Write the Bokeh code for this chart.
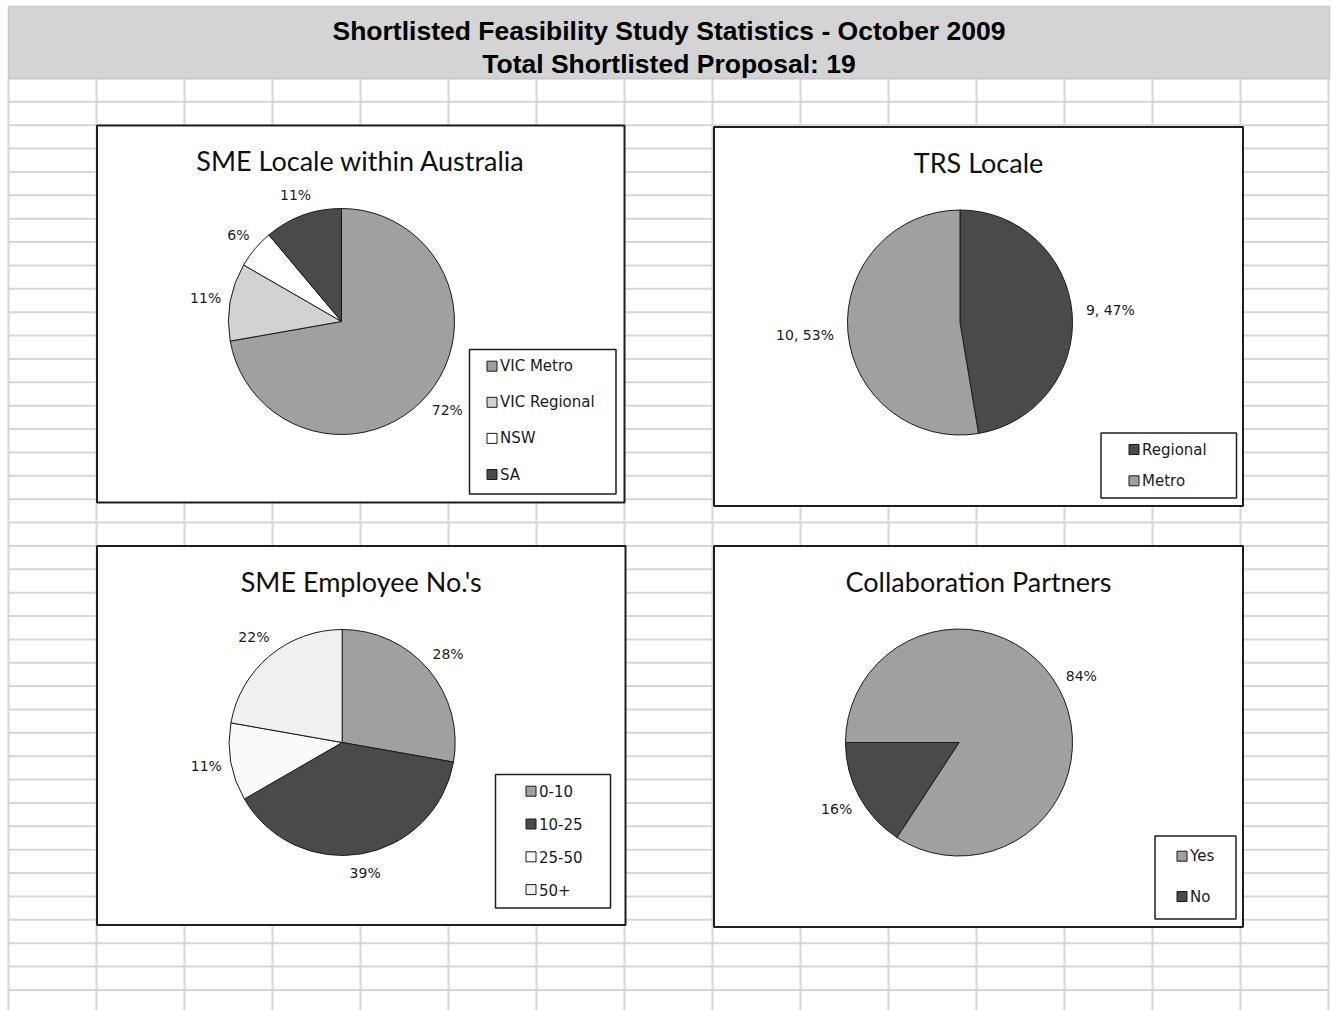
import numpy as np
from bokeh.plotting import figure
from bokeh.models import Range1d, ColumnDataSource
from bokeh.core.properties import value
from bokeh.embed import file_html
from bokeh.resources import INLINE

# ---------------- data ----------------
header_lines = ["Shortlisted Feasibility Study Statistics - October 2009",
                "Total Shortlisted Proposal: 19"]

locale_title = "SME Locale within Australia"
locale_cats = ["VIC Metro", "VIC Regional", "NSW", "SA"]
locale_counts = [13, 2, 1, 2]
locale_colors = ["#a0a0a0", "#d2d2d2", "#ffffff", "#4a4a4a"]

trs_title = "TRS Locale"
trs_cats = ["Regional", "Metro"]
trs_counts = [9, 10]
trs_colors = ["#4a4a4a", "#a0a0a0"]

emp_title = "SME Employee No.'s"
emp_cats = ["0-10", "10-25", "25-50", "50+"]
emp_counts = [5, 7, 2, 4]
emp_colors = ["#a0a0a0", "#4a4a4a", "#fafafa", "#f0f0f0"]

collab_title = "Collaboration Partners"
collab_cats = ["Yes", "No"]
collab_counts = [16, 3]
collab_colors = ["#a0a0a0", "#4a4a4a"]

# ---------------- page geometry ----------------
W, H = 1337, 1010
TITLE_FONT = "Lato"
SMALL_FONT = "DejaVu Sans"


def fy(y):
    """page y (downwards) -> plot y (upwards)"""
    return H - np.asarray(y, dtype=float)


p = figure(width=W, height=H, x_range=Range1d(0, W), y_range=Range1d(0, H),
           output_backend="svg", toolbar_location=None, min_border=0,
           x_axis_location=None, y_axis_location=None)
p.grid.visible = False
p.outline_line_color = None
p.background_fill_color = "white"
p.border_fill_color = "white"

# worksheet cell grid
col_x = 8 + 88 * np.arange(16)
row_y = 78 + 23.37 * np.arange(0, 40)
row_y = row_y[row_y <= H]
p.segment(x0=col_x, y0=fy(np.full(len(col_x), 78)), x1=col_x, y1=fy(np.full(len(col_x), H)),
          line_color="#d6d6d6", line_width=2)
p.segment(x0=np.full(len(row_y), 8), y0=fy(row_y), x1=np.full(len(row_y), 1329), y1=fy(row_y),
          line_color="#d6d6d6", line_width=2)

# merged header cells
p.quad(left=8, right=1329, top=fy(6), bottom=fy(78), fill_color="#d4d4d4",
       line_color="#c8c8c8", line_width=1.5)
p.text(x=[668.5, 668.5], y=fy([30, 63]), text=header_lines,
       text_font=value("Liberation Sans"), text_font_style="bold",
       text_font_size=value("26.5px"), text_align="center", text_baseline="middle",
       text_color="#000000")


def pie_panel(title, cats, counts, colors, box, center, r, legend_box, row0, row_step,
              sq_x, start_deg=0.0, show_count=False, title_y=None):
    bx0, by0, bx1, by1 = box
    # chart area
    p.quad(left=bx0, right=bx1, top=fy(by0), bottom=fy(by1), fill_color="white",
           line_color="#1e1e1e", line_width=2)
    p.text(x=[(bx0 + bx1) / 2], y=fy([title_y]), text=[title],
           text_font=value(TITLE_FONT), text_font_size=value("27px"),
           text_align="center", text_baseline="middle", text_color="#111111")

    counts = np.asarray(counts, dtype=float)
    frac = counts / counts.sum()
    cum = np.concatenate([[0.0], np.cumsum(frac)])
    start_cw = start_deg + cum[:-1] * 360.0   # clockwise from 12 o'clock
    end_cw = start_deg + cum[1:] * 360.0
    cx, cy = center
    src = ColumnDataSource(dict(
        start=np.radians(90.0 - start_cw), end=np.radians(90.0 - end_cw), color=colors))
    p.wedge(x=cx, y=fy(cy), radius=r, start_angle="start", end_angle="end",
            direction="clock", fill_color="color", line_color="#1a1a1a",
            line_width=1, source=src)

    # data labels just outside the rim
    pct = np.round(frac * 100).astype(int)
    if show_count:
        labels = [f"{int(c)}, {q}%" for c, q in zip(counts, pct)]
    else:
        labels = [f"{q}%" for q in pct]
    mid = np.radians((start_cw + end_cw) / 2.0)
    dx, dy = np.sin(mid), -np.cos(mid)
    widths = np.array([9.3 * len(s) for s in labels])
    d = r + 10 + np.abs(dx) * widths / 2 + np.abs(dy) * 7
    p.text(x=cx + d * dx, y=fy(cy + d * dy), text=labels,
           text_font=value(SMALL_FONT), text_font_size=value("14px"),
           text_align="center", text_baseline="middle", text_color="#1a1a1a")

    # legend
    lx0, ly0, lx1, ly1 = legend_box
    p.quad(left=lx0, right=lx1, top=fy(ly0), bottom=fy(ly1), fill_color="white",
           line_color="#1e1e1e", line_width=1.5)
    ys = row0 + row_step * np.arange(len(cats))
    p.rect(x=np.full(len(cats), sq_x + 5.5), y=fy(ys), width=10, height=10,
           fill_color=colors, line_color="#1a1a1a", line_width=1)
    p.text(x=np.full(len(cats), sq_x + 13.5), y=fy(ys), text=cats,
           text_font=value(SMALL_FONT), text_font_size=value("15px"),
           text_align="left", text_baseline="middle", text_color="#1a1a1a")


pie_panel(locale_title, locale_cats, locale_counts, locale_colors,
          box=(96.5, 125, 624, 502), center=(341, 321), r=113,
          legend_box=(469, 349, 615.5, 493.5), row0=365.7, row_step=36.1, sq_x=486,
          title_y=160)

pie_panel(trs_title, trs_cats, trs_counts, trs_colors,
          box=(713.5, 126.5, 1242.5, 505.5), center=(959.5, 322), r=112.5,
          legend_box=(1100.5, 432.5, 1236, 497.5), row0=449, row_step=31.3, sq_x=1128,
          show_count=True, title_y=162)

pie_panel(emp_title, emp_cats, emp_counts, emp_colors,
          box=(96.5, 545.5, 625, 924.5), center=(341.7, 742), r=113,
          legend_box=(495, 774, 610, 907.5), row0=790.7, row_step=32.8, sq_x=525,
          title_y=581)

pie_panel(collab_title, collab_cats, collab_counts, collab_colors,
          box=(713.5, 545.5, 1242.5, 926.5), center=(958.5, 742), r=113.5,
          legend_box=(1154.5, 835.5, 1235.5, 918.5), row0=855.7, row_step=40.3, sq_x=1176,
          start_deg=270.0, title_y=581)

open("out.html", "w").write(file_html(p, INLINE))
